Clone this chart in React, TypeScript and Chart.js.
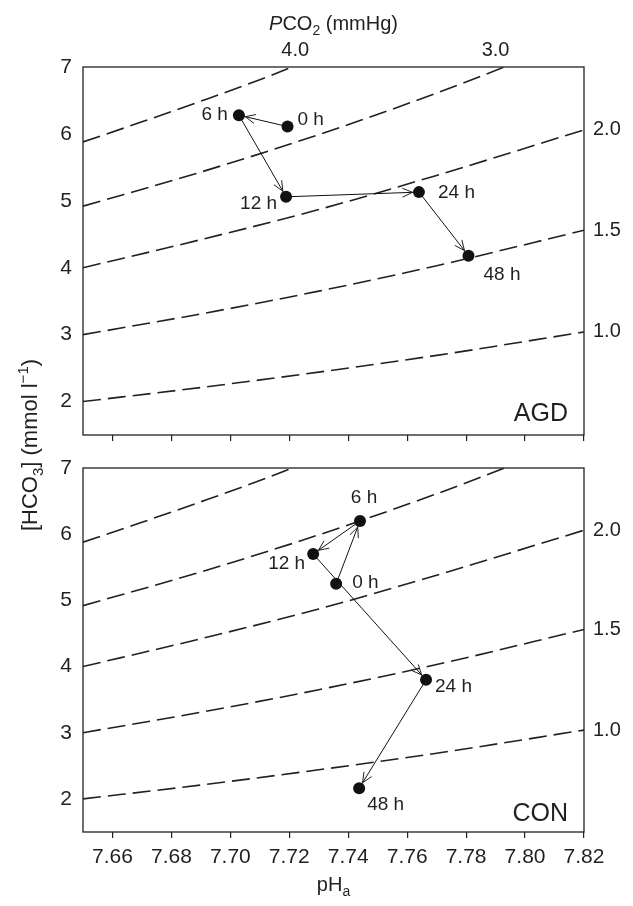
import React, { useEffect, useRef } from 'react';
import { Chart, registerables } from 'chart.js';

Chart.register(...registerables);

// ---------- data ----------
const X_TICKS = [7.66, 7.68, 7.7, 7.72, 7.74, 7.76, 7.78, 7.8, 7.82];
const Y_TICKS = [2, 3, 4, 5, 6, 7];
const TIME_LABELS = ['0 h', '6 h', '12 h', '24 h', '48 h'];

const AGD_PH = [7.7194, 7.7029, 7.7189, 7.764, 7.7808];
const AGD_HCO3 = [6.11, 6.28, 5.06, 5.13, 4.18];

const CON_PH = [7.7359, 7.744, 7.7281, 7.7664, 7.7437];
const CON_HCO3 = [5.25, 6.2, 5.7, 3.8, 2.16];

// PCO2 isopleths
const ISO_A_PH = [7.65, 7.67, 7.69, 7.71, 7.721];
const ISO_A_HCO3 = [5.88, 6.18, 6.49, 6.81, 7.0];
const ISO_B_PH = [7.65, 7.69, 7.73, 7.77, 7.793];
const ISO_B_HCO3 = [4.92, 5.43, 5.99, 6.61, 7.0];
const ISO_PH = [7.65, 7.69, 7.73, 7.77, 7.82];
const ISO_C_HCO3 = [4.0, 4.42, 4.87, 5.38, 6.06];
const ISO_D_HCO3 = [3.0, 3.31, 3.65, 4.03, 4.56];
const ISO_E_HCO3 = [2.0, 2.21, 2.44, 2.69, 3.04];

const PCO2_TOP_LABELS = ['4.0', '3.0'];
const PCO2_TOP_PH = [7.722, 7.79];
const PCO2_RIGHT_LABELS = ['2.0', '1.5', '1.0'];
const PCO2_RIGHT_HCO3 = [ISO_C_HCO3[4], ISO_D_HCO3[4], ISO_E_HCO3[4]];

// ---------- styles ----------
const FAMILY = '"Liberation Sans", Arial, Helvetica, sans-serif';
const INK = '#231f20';

type LabelPos = { dx: number; dy: number; align: CanvasTextAlign };
const AGD_LABEL_POS: LabelPos[] = [
  { dx: 10, dy: -7, align: 'left' },
  { dx: -11, dy: 0, align: 'right' },
  { dx: -9, dy: 7, align: 'right' },
  { dx: 19, dy: 1, align: 'left' },
  { dx: 15, dy: 19, align: 'left' },
];
const CON_LABEL_POS: LabelPos[] = [
  { dx: 16, dy: -1, align: 'left' },
  { dx: 4, dy: -23, align: 'center' },
  { dx: -8, dy: 10, align: 'right' },
  { dx: 9, dy: 7, align: 'left' },
  { dx: 8, dy: 16, align: 'left' },
];

type Seg = { t: string; italic?: boolean; sub?: boolean; sup?: boolean };

function drawRich(ctx: CanvasRenderingContext2D, segs: Seg[], cx: number, baseline: number, size: number) {
  const fontOf = (s: Seg) =>
    `${s.italic ? 'italic ' : ''}${s.sub || s.sup ? Math.round(size * 0.68) : size}px ${FAMILY}`;
  const widths = segs.map((s) => {
    ctx.font = fontOf(s);
    return ctx.measureText(s.t).width;
  });
  const total = widths.reduce((a, b) => a + b, 0);
  let x = cx - total / 2;
  ctx.textAlign = 'left';
  ctx.textBaseline = 'alphabetic';
  segs.forEach((s, i) => {
    ctx.font = fontOf(s);
    const dy = s.sub ? size * 0.25 : s.sup ? -size * 0.4 : 0;
    ctx.fillText(s.t, x, baseline + dy);
    x += widths[i];
  });
}

type PanelOpts = {
  name: string;
  nameBaselineOffset: number;
  ph: number[];
  hco3: number[];
  labelPos: LabelPos[];
  padTop: number;
  padBottom: number;
  xAxisHeight: number;
  showXLabels: boolean;
  top: boolean;
};

function makeChart(canvas: HTMLCanvasElement, o: PanelOpts) {
  const pts = (xs: number[], ys: number[]) => xs.map((x, i) => ({ x, y: ys[i] }));
  const iso = (xs: number[], ys: number[]) => ({
    data: pts(xs, ys),
    borderColor: INK,
    borderWidth: 1.6,
    borderDash: [18, 7],
    pointRadius: 0,
    fill: false,
    cubicInterpolationMode: 'monotone' as const,
  });

  const decor = {
    id: 'decor_' + o.name,
    afterDatasetsDraw(chart: any) {
      const ctx: CanvasRenderingContext2D = chart.ctx;
      const { left, right, top, bottom } = chart.chartArea;
      const xs = chart.scales.x;
      const ys = chart.scales.y;
      ctx.save();
      // frame
      ctx.strokeStyle = INK;
      ctx.lineWidth = 1.3;
      ctx.strokeRect(left, top, right - left, bottom - top);

      // arrowheads
      const meta = chart.getDatasetMeta(0);
      const els = meta.data;
      ctx.lineWidth = 1;
      for (let j = 1; j < els.length; j++) {
        const a = els[j - 1];
        const b = els[j];
        const ang = Math.atan2(b.y - a.y, b.x - a.x);
        const r = 6.5;
        const tx = b.x - r * Math.cos(ang);
        const ty = b.y - r * Math.sin(ang);
        const L = 11;
        const sp = 0.42;
        ctx.beginPath();
        ctx.moveTo(tx - L * Math.cos(ang - sp), ty - L * Math.sin(ang - sp));
        ctx.lineTo(tx, ty);
        ctx.lineTo(tx - L * Math.cos(ang + sp), ty - L * Math.sin(ang + sp));
        ctx.stroke();
      }

      // point labels
      ctx.fillStyle = INK;
      ctx.font = `19px ${FAMILY}`;
      ctx.textBaseline = 'middle';
      els.forEach((el: any, j: number) => {
        const p = o.labelPos[j];
        ctx.textAlign = p.align;
        ctx.fillText(TIME_LABELS[j], el.x + p.dx, el.y + p.dy);
      });

      // right PCO2 labels
      ctx.font = `20px ${FAMILY}`;
      ctx.textAlign = 'left';
      PCO2_RIGHT_LABELS.forEach((t, i) => {
        ctx.fillText(t, right + 9, ys.getPixelForValue(PCO2_RIGHT_HCO3[i]));
      });

      // panel name
      ctx.font = `25px ${FAMILY}`;
      ctx.textAlign = 'right';
      ctx.textBaseline = 'alphabetic';
      ctx.fillText(o.name, right - 16, bottom - o.nameBaselineOffset);

      if (o.top) {
        // top PCO2 labels
        ctx.font = `20px ${FAMILY}`;
        ctx.textAlign = 'center';
        ctx.textBaseline = 'middle';
        PCO2_TOP_LABELS.forEach((t, i) => {
          ctx.fillText(t, xs.getPixelForValue(PCO2_TOP_PH[i]), top - 17);
        });
        // top title
        drawRich(
          ctx,
          [{ t: 'P', italic: true }, { t: 'CO' }, { t: '2', sub: true }, { t: ' (mmHg)' }],
          (left + right) / 2,
          30,
          20
        );
        // y title (rotated), centred between the two panels
        ctx.save();
        ctx.translate(37, 445);
        ctx.rotate(-Math.PI / 2);
        drawRich(
          ctx,
          [{ t: '[HCO' }, { t: '3', sub: true }, { t: '] (mmol l' }, { t: '\u22121', sup: true }, { t: ')' }],
          0,
          0,
          22
        );
        ctx.restore();
      } else {
        drawRich(ctx, [{ t: 'pH' }, { t: 'a', sub: true }], (left + right) / 2, 891, 20);
      }
      ctx.restore();
    },
  };

  return new Chart(canvas, {
    type: 'line',
    data: {
      datasets: [
        {
          data: pts(o.ph, o.hco3),
          showLine: true,
          borderColor: '#111',
          borderWidth: 1,
          tension: 0,
          pointRadius: 6,
          pointBackgroundColor: '#111',
          pointBorderColor: '#111',
          pointBorderWidth: 0,
        } as any,
        iso(ISO_A_PH, ISO_A_HCO3),
        iso(ISO_B_PH, ISO_B_HCO3),
        iso(ISO_PH, ISO_C_HCO3),
        iso(ISO_PH, ISO_D_HCO3),
        iso(ISO_PH, ISO_E_HCO3),
      ],
    },
    options: {
      responsive: false,
      animation: false,
      events: [],
      layout: { padding: { top: o.padTop, right: 49, bottom: o.padBottom, left: 0 } },
      plugins: { legend: { display: false }, tooltip: { enabled: false } },
      scales: {
        x: {
          type: 'linear',
          min: 7.65,
          max: 7.82,
          afterBuildTicks: (s: any) => {
            s.ticks = X_TICKS.map((v) => ({ value: v }));
          },
          afterFit: (s: any) => {
            s.height = o.xAxisHeight;
          },
          ticks: {
            display: o.showXLabels,
            color: INK,
            font: { size: 21, family: FAMILY },
            padding: 7,
            maxRotation: 0,
            autoSkip: false,
            callback: (v: any) => Number(v).toFixed(2),
          },
          grid: {
            display: true,
            drawOnChartArea: false,
            drawTicks: true,
            tickLength: 6,
            color: INK,
            lineWidth: 1.2,
          },
          border: { display: false },
        },
        y: {
          type: 'linear',
          min: 1.5,
          max: 7,
          afterBuildTicks: (s: any) => {
            s.ticks = Y_TICKS.map((v) => ({ value: v }));
          },
          afterFit: (s: any) => {
            s.width = 83;
          },
          ticks: {
            color: INK,
            font: { size: 21, family: FAMILY },
            padding: 11,
            callback: (v: any) => String(v),
          },
          grid: { display: false, drawTicks: false },
          border: { display: false },
        },
      },
    },
    plugins: [decor],
  } as any);
}

export default function App() {
  const refA = useRef<HTMLCanvasElement | null>(null);
  const refB = useRef<HTMLCanvasElement | null>(null);

  useEffect(() => {
    document.body.style.margin = '0';
    const a = makeChart(refA.current!, {
      name: 'AGD',
      nameBaselineOffset: 14,
      ph: AGD_PH,
      hco3: AGD_HCO3,
      labelPos: AGD_LABEL_POS,
      padTop: 67,
      padBottom: 906 - 435 - 20,
      xAxisHeight: 20,
      showXLabels: false,
      top: true,
    });
    const b = makeChart(refB.current!, {
      name: 'CON',
      nameBaselineOffset: 11,
      ph: CON_PH,
      hco3: CON_HCO3,
      labelPos: CON_LABEL_POS,
      padTop: 468,
      padBottom: 906 - 832 - 40,
      xAxisHeight: 40,
      showXLabels: true,
      top: false,
    });
    return () => {
      a.destroy();
      b.destroy();
    };
  }, []);

  const cs: React.CSSProperties = { position: 'absolute', left: 0, top: 0, width: 633, height: 906 };
  return (
    <div style={{ position: 'fixed', left: 0, top: 0, width: 633, height: 906, background: '#fff' }}>
      <canvas ref={refA} width={633} height={906} style={cs} />
      <canvas ref={refB} width={633} height={906} style={cs} />
    </div>
  );
}
